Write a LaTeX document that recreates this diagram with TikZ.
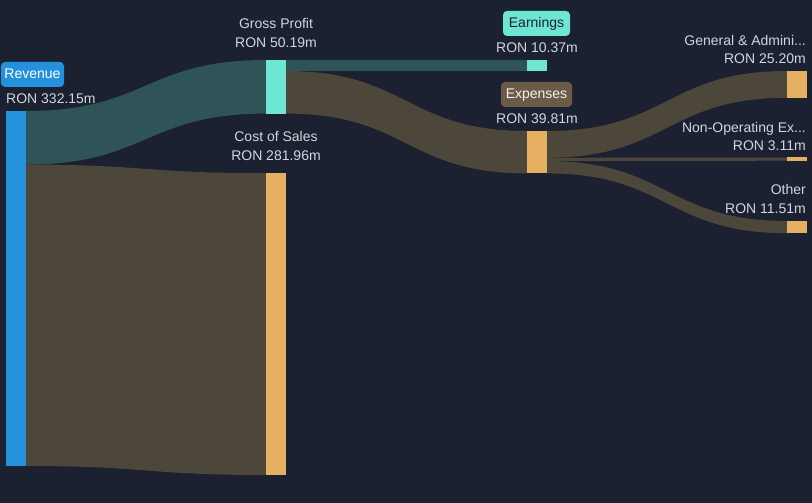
\documentclass[tikz,border=0pt]{standalone}
\usepackage{fontspec}
\setmainfont{Liberation Sans}
\usetikzlibrary{calc}
\definecolor{bg}{HTML}{1B2130}
\definecolor{txt}{HTML}{D2D5DA}
\definecolor{cblue}{HTML}{2391DC}
\definecolor{cteal}{HTML}{6DE6D4}
\definecolor{corange}{HTML}{E6B062}
\definecolor{fteal}{HTML}{2F5457}
\definecolor{fbrown}{HTML}{4D473B}
\definecolor{bbrown}{HTML}{6B5A45}
\tikzset{
  bar/.style={draw=none, inner sep=0pt, outer sep=0pt, minimum width=20bp, anchor=north west},
  lbl/.style={text=txt, inner sep=0pt, font=\fontsize{14bp}{16bp}\selectfont},
  tag/.style={rounded corners=4bp, inner sep=0pt, minimum height=25bp, text height=10bp, text depth=1bp, font=\fontsize{14bp}{16bp}\selectfont},
  flowt/.style={fill=fteal, draw=none},
  flowb/.style={fill=fbrown, draw=none},
}
\begin{document}
\begin{tikzpicture}[x=1bp, y=-1bp]
\useasboundingbox[fill=bg] (0,0) rectangle (812,503);

% bars
\node[bar, fill=cblue, minimum height=355bp] (rev) at (6,111) {};
\node[bar, fill=cteal, minimum height=53.6bp] (gp) at (266,60) {};
\node[bar, fill=corange, minimum height=301.8bp] (cos) at (266,173.2) {};
\node[bar, fill=cteal, minimum height=11bp] (earn) at (527,60) {};
\node[bar, fill=corange, minimum height=42.4bp] (exp) at (527,131) {};
\node[bar, fill=corange, minimum height=26.8bp] (ga) at (787,71) {};
\node[bar, fill=corange, minimum height=3.2bp] (nonop) at (787,157.5) {};
\node[bar, fill=corange, minimum height=12.2bp] (other) at (787,221) {};

% flows
\fill[flowt] (rev.north east) .. controls +(120,0) and +(-120,0) .. (gp.north west)
  -- (gp.south west) .. controls +(-120,0) and +(120,0) .. ($(rev.north east)+(0,53.6)$) -- cycle;
\fill[flowb] ($(rev.north east)+(0,53.6)$) .. controls +(120,0) and +(-120,0) .. (cos.north west)
  -- (cos.south west) .. controls +(-120,0) and +(120,0) .. (rev.south east) -- cycle;
\fill[flowt] (gp.north east) -- (earn.north west) -- (earn.south west) -- ($(gp.north east)+(0,11)$) -- cycle;
\fill[flowb] ($(gp.north east)+(0,11)$) .. controls +(120.5,0) and +(-120.5,0) .. (exp.north west)
  -- (exp.south west) .. controls +(-120.5,0) and +(120.5,0) .. (gp.south east) -- cycle;
\fill[flowb] (exp.north east) .. controls +(120,0) and +(-120,0) .. (ga.north west)
  -- (ga.south west) .. controls +(-120,0) and +(120,0) .. ($(exp.north east)+(0,26.8)$) -- cycle;
\fill[flowb] ($(exp.north east)+(0,26.8)$) .. controls +(120,0) and +(-120,0) .. (nonop.north west)
  -- (nonop.south west) .. controls +(-120,0) and +(120,0) .. ($(exp.north east)+(0,30.1)$) -- cycle;
\fill[flowb] ($(exp.north east)+(0,30.1)$) .. controls +(120,0) and +(-120,0) .. (other.north west)
  -- (other.south west) .. controls +(-120,0) and +(120,0) .. (exp.south east) -- cycle;

% redraw bars on top
\fill[cblue] (rev.north west) rectangle (rev.south east);
\fill[cteal] (gp.north west) rectangle (gp.south east);
\fill[corange] (cos.north west) rectangle (cos.south east);
\fill[cteal] (earn.north west) rectangle (earn.south east);
\fill[corange] (exp.north west) rectangle (exp.south east);
\fill[corange] (ga.north west) rectangle (ga.south east);
\fill[corange] (nonop.north west) rectangle (nonop.south east);
\fill[corange] (other.north west) rectangle (other.south east);

% labels
\node[tag, fill=cblue, text=white, minimum width=63bp] (revtag) at (32.5,74.5) {Revenue};
\node[lbl, anchor=base west] (revval) at (6,104) {RON 332.15m};

\node[lbl, anchor=base] (gplbl) at (276,29) {Gross Profit};
\node[lbl, anchor=base] (gpval) at (276,48) {RON 50.19m};

\node[lbl, anchor=base] (coslbl) at (276,142) {Cost of Sales};
\node[lbl, anchor=base] (cosval) at (276,161) {RON 281.96m};

\node[tag, fill=cteal, text=bg, minimum width=67bp] (earntag) at (536.5,23.5) {Earnings};
\node[lbl, anchor=base] (earnval) at (537,53) {RON 10.37m};

\node[tag, fill=bbrown, text=white!92!bbrown, minimum width=71bp] (exptag) at (536.5,94.5) {Expenses};
\node[lbl, anchor=base] (expval) at (537,124) {RON 39.81m};

\node[lbl, anchor=base east] (galbl) at (806,45.5) {General \& Admini...};
\node[lbl, anchor=base east] (gaval) at (806,64) {RON 25.20m};

\node[lbl, anchor=base east] (nonoplbl) at (806,132.5) {Non-Operating Ex...};
\node[lbl, anchor=base east] (nonopval) at (806,151) {RON 3.11m};

\node[lbl, anchor=base east] (otherlbl) at (806,195) {Other};
\node[lbl, anchor=base east] (otherval) at (806,214) {RON 11.51m};
\end{tikzpicture}
\end{document}
